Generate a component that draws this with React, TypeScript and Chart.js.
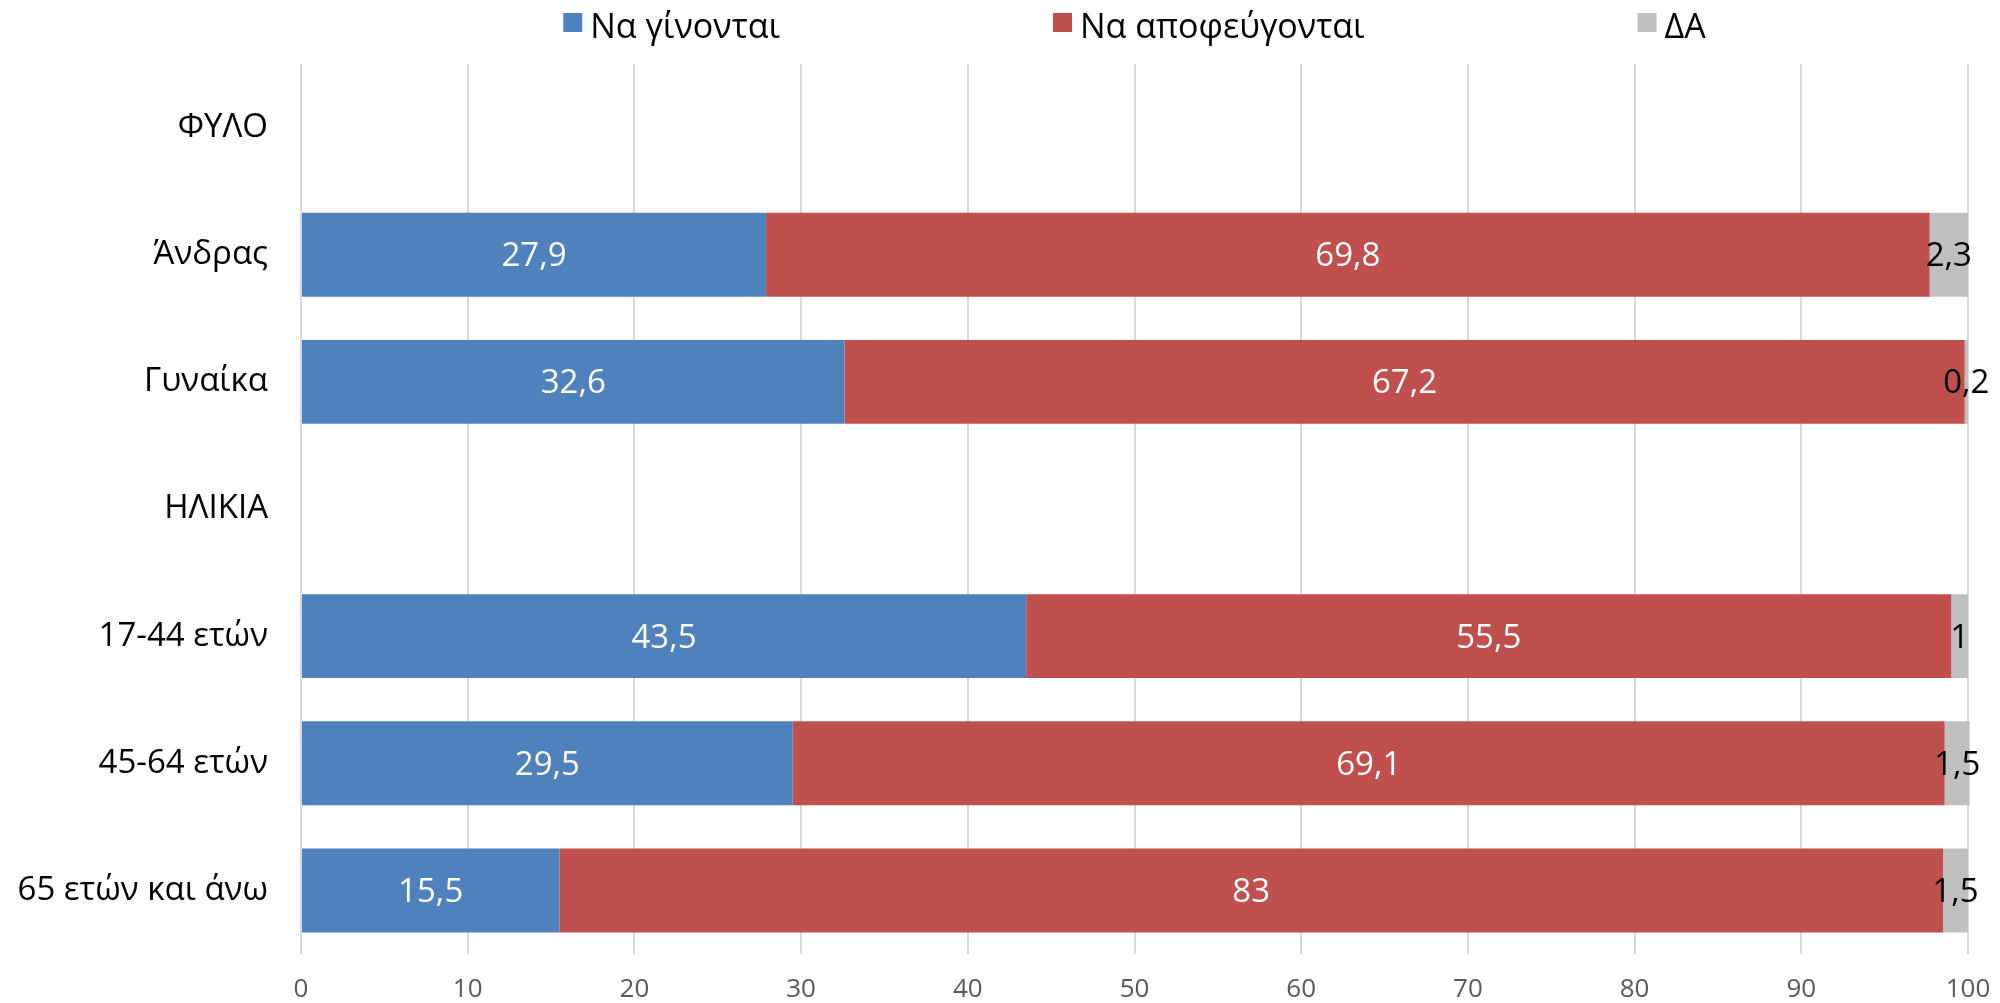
import React, { useEffect, useRef } from 'react';
import { Chart, registerables } from 'chart.js';

Chart.register(...registerables);

const FONT = "'Open Sans', sans-serif";

const categories = ['ΦΥΛΟ', 'Άνδρας', 'Γυναίκα', 'ΗΛΙΚΙΑ', '17-44 ετών', '45-64 ετών', '65 ετών και άνω'];
const seriesNames = ['Να γίνονται', 'Να αποφεύγονται', 'ΔΑ'];
const naGinontai = [null, 27.9, 32.6, null, 43.5, 29.5, 15.5];
const naApofeugontai = [null, 69.8, 67.2, null, 55.5, 69.1, 83];
const da = [null, 2.3, 0.2, null, 1, 1.5, 1.5];
const xMin = 0;
const xMax = 100;
const xStep = 10;

const seriesColors = ['#4F81BD', '#C0504D', '#BFBFBF'];
const labelColors = ['#FFFFFF', '#FFFFFF', '#000000'];

const fmt = (v: number) => String(v).replace('.', ',');

const legendPlugin = {
  id: 'customLegend',
  afterDraw(chart: any) {
    const ctx = chart.ctx;
    ctx.save();
    ctx.font = `34px ${FONT}`;
    const box = 19;
    const gapText = 8;
    const gapItem = 273;
    const widths = seriesNames.map((n) => box + gapText + ctx.measureText(n).width);
    const total = widths.reduce((a, b) => a + b, 0) + gapItem * (widths.length - 1);
    const ca = chart.chartArea;
    let x = (ca.left + ca.right) / 2 - total / 2;
    seriesNames.forEach((n, i) => {
      ctx.fillStyle = seriesColors[i];
      ctx.fillRect(x, 13, box, box);
      ctx.fillStyle = '#000000';
      ctx.textAlign = 'left';
      ctx.textBaseline = 'alphabetic';
      ctx.fillText(n, x + box + gapText, 38);
      x += widths[i] + gapItem;
    });
    ctx.restore();
  },
};

const dataLabelPlugin = {
  id: 'dataLabels',
  afterDatasetsDraw(chart: any) {
    const ctx = chart.ctx;
    ctx.save();
    ctx.font = `33px ${FONT}`;
    ctx.textAlign = 'center';
    ctx.textBaseline = 'middle';
    chart.data.datasets.forEach((ds: any, di: number) => {
      const meta = chart.getDatasetMeta(di);
      meta.data.forEach((el: any, i: number) => {
        const v = ds.data[i];
        if (v == null) return;
        const { x, base, y } = el.getProps(['x', 'base', 'y'], true);
        ctx.fillStyle = labelColors[di];
        ctx.fillText(fmt(v), (x + base) / 2, y + 2);
      });
    });
    ctx.restore();
  },
};

export default function App() {
  const ref = useRef<HTMLCanvasElement | null>(null);

  useEffect(() => {
    if (!ref.current) return;
    const seriesData = [naGinontai, naApofeugontai, da];
    const chart = new Chart(ref.current, {
      type: 'bar',
      data: {
        labels: categories,
        datasets: seriesNames.map((name, i) => ({
          label: name,
          data: seriesData[i] as any,
          backgroundColor: seriesColors[i],
          borderWidth: 0,
          barPercentage: 0.66,
          categoryPercentage: 1,
          clip: false as any,
        })),
      },
      options: {
        indexAxis: 'y',
        responsive: false,
        animation: false,
        layout: { padding: { top: 64, right: 32, bottom: 0, left: 0 } },
        plugins: {
          legend: { display: false },
          tooltip: { enabled: false },
        },
        scales: {
          x: {
            stacked: true,
            min: xMin,
            max: xMax,
            ticks: {
              stepSize: xStep,
              color: '#595959',
              font: { family: FONT, size: 26 },
              padding: 20,
            },
            grid: { color: '#D9D9D9', lineWidth: 2, drawTicks: false },
            border: { display: false },
            afterFit: (s: any) => {
              s.height = 49;
              s.paddingLeft = 0;
              s.paddingRight = 0;
            },
          },
          y: {
            stacked: true,
            ticks: {
              color: '#000000',
              font: { family: FONT, size: 33 },
              padding: 25,
            },
            grid: { display: false },
            border: { display: false },
            afterFit: (s: any) => {
              s.width = 301;
              s.paddingTop = 0;
              s.paddingBottom = 0;
            },
          },
        },
      },
      plugins: [dataLabelPlugin, legendPlugin],
    });
    return () => chart.destroy();
  }, []);

  return (
    <div style={{ position: 'fixed', left: 0, top: 0, width: 2000, height: 1003, background: '#FFFFFF' }}>
      <canvas ref={ref} width={2000} height={1003} style={{ display: 'block' }} />
    </div>
  );
}
